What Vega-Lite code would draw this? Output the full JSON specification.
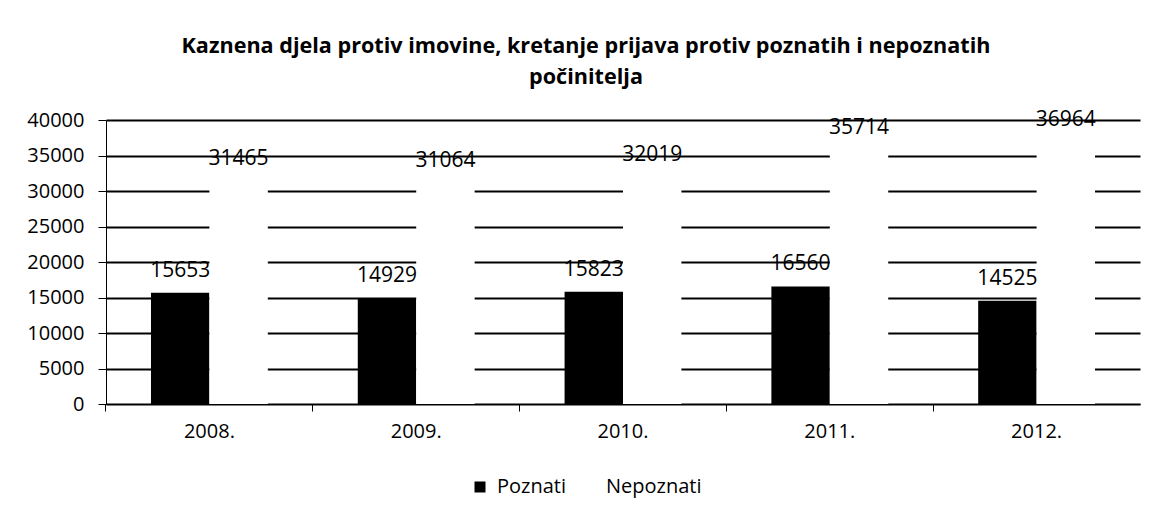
{
  "$schema": "https://vega.github.io/schema/vega-lite/v6.json",
  "width": 1034,
  "height": 284,
  "autosize": "none",
  "padding": {"left": 106, "top": 120, "right": 22, "bottom": 106},
  "background": "white",
  "title": {
    "text": ["Kaznena djela protiv imovine, kretanje prijava protiv poznatih i nepoznatih", "počinitelja"],
    "font": "Open Sans",
    "fontSize": 21.6,
    "fontWeight": "bold",
    "color": "#000000",
    "lineHeight": 31,
    "anchor": "middle",
    "dx": -37,
    "offset": 20
  },
  "data": {
    "values": [
      {"godina": "2008.", "vrsta": "Poznati", "broj": 15653},
      {"godina": "2008.", "vrsta": "Nepoznati", "broj": 31465},
      {"godina": "2009.", "vrsta": "Poznati", "broj": 14929},
      {"godina": "2009.", "vrsta": "Nepoznati", "broj": 31064},
      {"godina": "2010.", "vrsta": "Poznati", "broj": 15823},
      {"godina": "2010.", "vrsta": "Nepoznati", "broj": 32019},
      {"godina": "2011.", "vrsta": "Poznati", "broj": 16560},
      {"godina": "2011.", "vrsta": "Nepoznati", "broj": 35714},
      {"godina": "2012.", "vrsta": "Poznati", "broj": 14525},
      {"godina": "2012.", "vrsta": "Nepoznati", "broj": 36964}
    ]
  },
  "encoding": {
    "x": {
      "field": "godina",
      "type": "nominal",
      "scale": {"paddingInner": 0.435, "paddingOuter": 0.2175},
      "axis": {
        "title": null,
        "labelAngle": 0,
        "labelFont": "Open Sans",
        "labelFontSize": 20,
        "labelColor": "#000000",
        "labelPadding": 10,
        "tickSize": 7,
        "tickColor": "#000000",
        "domainColor": "#000000",
        "bandPosition": -0.385,
        "zindex": 1
      }
    },
    "xOffset": {
      "field": "vrsta",
      "type": "nominal",
      "sort": ["Poznati", "Nepoznati"],
      "scale": {"paddingInner": 0, "paddingOuter": 0}
    },
    "y": {
      "field": "broj",
      "type": "quantitative",
      "scale": {"domain": [0, 40000]},
      "axis": {
        "title": null,
        "values": [0, 5000, 10000, 15000, 20000, 25000, 30000, 35000, 40000],
        "format": "d",
        "labelFont": "Open Sans",
        "labelFontSize": 20,
        "labelColor": "#000000",
        "labelPadding": 14,
        "tickSize": 8,
        "tickColor": "#000000",
        "domainColor": "#000000",
        "grid": true,
        "gridColor": "#000000",
        "gridWidth": 1.8
      }
    }
  },
  "layer": [
    {
      "mark": {"type": "bar"},
      "encoding": {
        "color": {
          "field": "vrsta",
          "type": "nominal",
          "scale": {"domain": ["Poznati", "Nepoznati"], "range": ["#000000", "#ffffff"]},
          "legend": {
            "orient": "none",
            "legendX": 364,
            "legendY": 357,
            "direction": "horizontal",
            "title": null,
            "symbolType": "square",
            "symbolSize": 121,
            "symbolStrokeWidth": 0,
            "labelFont": "Open Sans",
            "labelFontSize": 20,
            "labelColor": "#000000",
            "labelOffset": 7,
            "columnPadding": 13
          }
        }
      }
    },
    {
      "mark": {"type": "text", "baseline": "alphabetic", "dy": -16, "font": "Open Sans", "fontSize": 21, "color": "#000000"},
      "encoding": {
        "text": {"field": "broj", "type": "quantitative", "format": "d"}
      }
    }
  ],
  "config": {
    "font": "Open Sans",
    "view": {"stroke": null}
  }
}
